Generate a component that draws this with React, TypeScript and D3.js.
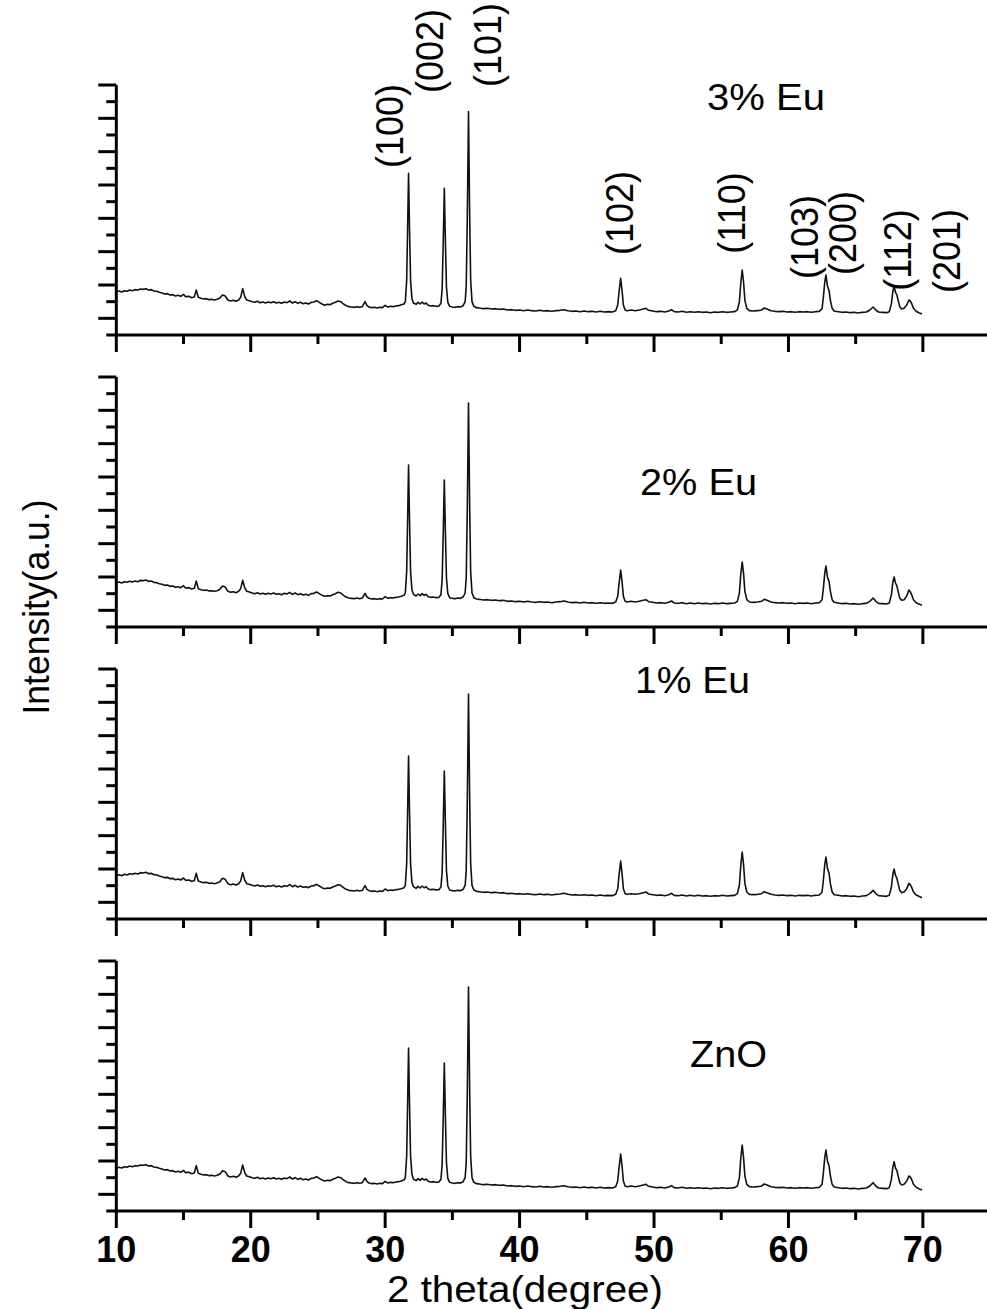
import React from "react";
import * as d3 from "d3";

// XRD patterns, [2theta (deg), intensity (counts)]
const zno: [number, number][] = [
  [10.0,256],[10.2,262],[10.4,258],[10.6,266],[10.8,262],[11.0,270],[11.2,266],[11.4,272],[11.6,270],[11.8,276],
  [12.0,274],[12.2,278],[12.4,270],[12.6,272],[12.8,264],[13.0,262],[13.2,256],[13.4,252],[13.6,246],[13.8,248],
  [14.0,240],[14.2,242],[14.4,234],[14.6,238],[14.8,232],[15.0,244],[15.15,230],[15.4,232],[15.6,224],[15.8,228],
  [15.95,272],[16.1,226],[16.3,220],[16.5,216],[16.7,218],[16.9,212],[17.1,214],[17.3,210],[17.5,214],[17.7,222],
  [17.9,242],[18.1,236],[18.3,210],[18.5,204],[18.7,208],[18.9,202],[19.1,210],[19.25,226],[19.4,276],[19.55,232],
  [19.7,210],[19.9,206],[20.1,200],[20.3,196],[20.5,202],[20.7,194],[20.9,198],[21.1,192],[21.3,198],[21.5,194],
  [21.7,200],[21.9,192],[22.1,196],[22.3,190],[22.5,198],[22.7,194],[22.9,204],[23.1,192],[23.3,200],[23.5,190],
  [23.7,196],[23.9,188],[24.1,192],[24.3,186],[24.5,196],[24.7,198],[24.9,206],[25.1,196],[25.3,186],[25.5,180],
  [25.7,184],[25.9,182],[26.1,190],[26.3,196],[26.5,204],[26.7,200],[26.9,186],[27.1,176],[27.3,170],[27.5,168],
  [27.7,166],[27.9,170],[28.1,166],[28.3,170],[28.5,198],[28.65,176],[28.8,168],[29.0,164],[29.2,166],[29.4,162],
  [29.6,166],[29.8,164],[30.0,178],[30.2,168],[30.4,172],[30.6,170],[30.8,174],[31.0,176],[31.2,180],[31.4,186],
  [31.5,200],[31.6,330],[31.67,640],[31.74,978],[31.81,650],[31.89,330],[31.99,220],[32.1,192],
  [32.3,182],[32.45,194],[32.6,184],[32.75,196],[32.9,186],[33.05,192],[33.2,178],[33.4,174],[33.6,176],[33.8,172],
  [34.0,174],[34.15,190],[34.24,280],[34.32,560],[34.4,888],[34.48,570],[34.56,290],[34.66,196],[34.8,172],
  [35.0,168],[35.2,166],[35.4,170],[35.6,168],[35.8,176],[35.95,200],
  [36.03,290],[36.11,700],[36.2,1344],[36.28,760],[36.36,330],[36.46,200],[36.6,172],[36.8,164],
  [37.0,162],[37.3,158],[37.6,160],[37.9,156],[38.2,158],[38.5,154],[38.8,156],[39.1,150],[39.4,152],[39.7,148],
  [40.0,150],[40.3,146],[40.6,150],[40.9,146],[41.2,144],[41.5,148],[41.8,144],[42.1,146],[42.4,142],[42.7,146],
  [43.0,148],[43.3,152],[43.6,146],[43.9,142],[44.2,144],[44.5,140],[44.8,144],[45.1,140],[45.4,142],[45.7,138],
  [46.0,142],[46.3,138],[46.6,140],[46.9,138],[47.15,146],
  [47.3,180],[47.4,260],[47.52,342],[47.62,270],[47.72,180],[47.85,150],
  [48.0,146],[48.3,150],[48.6,146],[48.9,150],[49.2,156],[49.4,160],[49.6,148],[49.9,144],[50.2,140],[50.5,142],
  [50.8,138],[51.1,144],[51.3,152],[51.5,140],[51.8,138],[52.1,142],[52.4,136],[52.7,140],[53.0,136],[53.3,140],
  [53.6,136],[53.9,138],[54.2,134],[54.5,138],[54.8,136],[55.1,140],[55.4,136],[55.7,138],[56.0,140],[56.2,150],
  [56.35,200],[56.46,320],[56.56,396],[56.66,320],[56.76,210],[56.9,160],[57.1,146],
  [57.4,144],[57.7,146],[58.0,150],[58.2,162],[58.4,156],[58.7,146],[59.0,142],[59.3,140],[59.6,142],[59.9,138],
  [60.2,140],[60.5,136],[60.8,140],[61.1,138],[61.4,140],[61.7,136],[62.0,140],[62.3,142],[62.5,160],
  [62.6,230],[62.7,320],[62.79,366],[62.9,300],[63.02,270],[63.12,210],[63.25,160],[63.4,144],
  [63.7,140],[64.0,136],[64.3,138],[64.6,134],[64.9,136],[65.2,132],[65.5,136],[65.8,138],[66.05,150],[66.3,170],
  [66.5,150],[66.7,138],[67.0,136],[67.3,134],[67.5,140],[67.66,190],
  [67.76,260],[67.86,296],[67.96,258],[68.06,244],[68.16,210],[68.28,170],[68.42,156],
  [68.6,160],[68.8,180],[68.96,210],[69.06,204],[69.18,186],[69.3,160],[69.5,142],[69.7,134],[69.93,126],
];

const eu1: [number, number][] = [
  [10.0,262],[10.2,266],[10.4,260],[10.6,268],[10.8,264],[11.0,272],[11.2,268],[11.4,274],[11.6,270],[11.8,278],
  [12.0,276],[12.2,280],[12.4,272],[12.6,274],[12.8,266],[13.0,264],[13.2,258],[13.4,254],[13.6,248],[13.8,250],
  [14.0,242],[14.2,244],[14.4,236],[14.6,240],[14.8,234],[15.0,246],[15.15,232],[15.4,234],[15.6,226],[15.8,230],
  [15.95,274],[16.1,228],[16.3,222],[16.5,218],[16.7,220],[16.9,214],[17.1,216],[17.3,212],[17.5,216],[17.7,224],
  [17.9,244],[18.1,238],[18.3,212],[18.5,206],[18.7,210],[18.9,204],[19.1,212],[19.25,228],[19.4,278],[19.55,234],
  [19.7,212],[19.9,208],[20.1,202],[20.3,198],[20.5,204],[20.7,196],[20.9,200],[21.1,194],[21.3,200],[21.5,196],
  [21.7,202],[21.9,194],[22.1,198],[22.3,192],[22.5,200],[22.7,196],[22.9,206],[23.1,194],[23.3,202],[23.5,192],
  [23.7,198],[23.9,190],[24.1,194],[24.3,188],[24.5,198],[24.7,200],[24.9,208],[25.1,198],[25.3,188],[25.5,182],
  [25.7,186],[25.9,184],[26.1,192],[26.3,198],[26.5,206],[26.7,202],[26.9,188],[27.1,178],[27.3,172],[27.5,170],
  [27.7,168],[27.9,172],[28.1,168],[28.3,172],[28.5,200],[28.65,178],[28.8,170],[29.0,166],[29.2,168],[29.4,164],
  [29.6,168],[29.8,166],[30.0,180],[30.2,170],[30.4,174],[30.6,172],[30.8,176],[31.0,178],[31.2,182],[31.4,188],
  [31.5,202],[31.6,332],[31.67,644],[31.74,978],[31.81,654],[31.89,332],[31.99,222],[32.1,194],
  [32.3,184],[32.45,196],[32.6,186],[32.75,198],[32.9,188],[33.05,194],[33.2,180],[33.4,176],[33.6,178],[33.8,174],
  [34.0,176],[34.15,192],[34.24,282],[34.32,564],[34.4,888],[34.48,574],[34.56,292],[34.66,198],[34.8,174],
  [35.0,170],[35.2,168],[35.4,172],[35.6,170],[35.8,178],[35.95,202],
  [36.03,292],[36.11,704],[36.2,1350],[36.28,764],[36.36,332],[36.46,202],[36.6,174],[36.8,166],
  [37.0,164],[37.3,160],[37.6,162],[37.9,158],[38.2,160],[38.5,156],[38.8,158],[39.1,152],[39.4,154],[39.7,150],
  [40.0,152],[40.3,148],[40.6,152],[40.9,148],[41.2,146],[41.5,150],[41.8,146],[42.1,148],[42.4,144],[42.7,148],
  [43.0,150],[43.3,154],[43.6,148],[43.9,144],[44.2,146],[44.5,142],[44.8,146],[45.1,142],[45.4,144],[45.7,140],
  [46.0,144],[46.3,140],[46.6,142],[46.9,140],[47.15,148],
  [47.3,182],[47.4,264],[47.52,348],[47.62,274],[47.72,182],[47.85,152],
  [48.0,148],[48.3,152],[48.6,148],[48.9,152],[49.2,158],[49.4,162],[49.6,150],[49.9,146],[50.2,142],[50.5,144],
  [50.8,140],[51.1,146],[51.3,154],[51.5,142],[51.8,140],[52.1,144],[52.4,138],[52.7,142],[53.0,138],[53.3,142],
  [53.6,138],[53.9,140],[54.2,136],[54.5,140],[54.8,138],[55.1,142],[55.4,138],[55.7,140],[56.0,142],[56.2,152],
  [56.35,204],[56.46,326],[56.56,402],[56.66,326],[56.76,212],[56.9,162],[57.1,148],
  [57.4,146],[57.7,148],[58.0,152],[58.2,164],[58.4,158],[58.7,148],[59.0,144],[59.3,142],[59.6,144],[59.9,140],
  [60.2,142],[60.5,138],[60.8,142],[61.1,140],[61.4,142],[61.7,138],[62.0,142],[62.3,144],[62.5,162],
  [62.6,234],[62.7,326],[62.79,372],[62.9,304],[63.02,274],[63.12,212],[63.25,162],[63.4,146],
  [63.7,142],[64.0,138],[64.3,140],[64.6,136],[64.9,138],[65.2,134],[65.5,138],[65.8,140],[66.05,152],[66.3,172],
  [66.5,152],[66.7,140],[67.0,138],[67.3,136],[67.5,142],[67.66,192],
  [67.76,264],[67.86,300],[67.96,262],[68.06,246],[68.16,212],[68.28,172],[68.42,158],
  [68.6,162],[68.8,182],[68.96,214],[69.06,206],[69.18,188],[69.3,162],[69.5,144],[69.7,136],[69.93,128],
];

const eu2: [number, number][] = [
  [10.0,266],[10.2,270],[10.4,264],[10.6,272],[10.8,268],[11.0,274],[11.2,270],[11.4,276],[11.6,272],[11.8,280],
  [12.0,278],[12.2,282],[12.4,274],[12.6,276],[12.8,268],[13.0,266],[13.2,260],[13.4,256],[13.6,250],[13.8,252],
  [14.0,244],[14.2,246],[14.4,238],[14.6,242],[14.8,236],[15.0,248],[15.15,234],[15.4,236],[15.6,228],[15.8,232],
  [15.95,276],[16.1,230],[16.3,224],[16.5,220],[16.7,222],[16.9,216],[17.1,218],[17.3,214],[17.5,218],[17.7,226],
  [17.9,246],[18.1,240],[18.3,214],[18.5,208],[18.7,212],[18.9,206],[19.1,214],[19.25,230],[19.4,280],[19.55,236],
  [19.7,214],[19.9,210],[20.1,204],[20.3,200],[20.5,206],[20.7,198],[20.9,202],[21.1,196],[21.3,202],[21.5,198],
  [21.7,204],[21.9,196],[22.1,200],[22.3,194],[22.5,202],[22.7,198],[22.9,208],[23.1,196],[23.3,204],[23.5,194],
  [23.7,200],[23.9,192],[24.1,196],[24.3,190],[24.5,200],[24.7,202],[24.9,210],[25.1,200],[25.3,190],[25.5,184],
  [25.7,188],[25.9,186],[26.1,194],[26.3,200],[26.5,208],[26.7,204],[26.9,190],[27.1,180],[27.3,174],[27.5,172],
  [27.7,170],[27.9,174],[28.1,170],[28.3,174],[28.5,202],[28.65,180],[28.8,172],[29.0,168],[29.2,170],[29.4,166],
  [29.6,170],[29.8,168],[30.0,182],[30.2,172],[30.4,176],[30.6,174],[30.8,178],[31.0,180],[31.2,184],[31.4,190],
  [31.5,204],[31.6,332],[31.67,640],[31.74,972],[31.81,650],[31.89,332],[31.99,224],[32.1,196],
  [32.3,186],[32.45,198],[32.6,188],[32.75,200],[32.9,190],[33.05,196],[33.2,182],[33.4,178],[33.6,180],[33.8,176],
  [34.0,178],[34.15,194],[34.24,284],[34.32,560],[34.4,882],[34.48,570],[34.56,294],[34.66,200],[34.8,176],
  [35.0,172],[35.2,170],[35.4,174],[35.6,172],[35.8,180],[35.95,204],
  [36.03,294],[36.11,702],[36.2,1344],[36.28,762],[36.36,334],[36.46,204],[36.6,176],[36.8,168],
  [37.0,166],[37.3,162],[37.6,164],[37.9,160],[38.2,162],[38.5,158],[38.8,160],[39.1,154],[39.4,156],[39.7,152],
  [40.0,154],[40.3,150],[40.6,154],[40.9,150],[41.2,148],[41.5,152],[41.8,148],[42.1,150],[42.4,146],[42.7,150],
  [43.0,152],[43.3,156],[43.6,150],[43.9,146],[44.2,148],[44.5,144],[44.8,148],[45.1,144],[45.4,146],[45.7,142],
  [46.0,146],[46.3,142],[46.6,144],[46.9,142],[47.15,150],
  [47.3,184],[47.4,262],[47.52,342],[47.62,272],[47.72,184],[47.85,154],
  [48.0,150],[48.3,154],[48.6,150],[48.9,154],[49.2,160],[49.4,164],[49.6,152],[49.9,148],[50.2,144],[50.5,146],
  [50.8,142],[51.1,148],[51.3,156],[51.5,144],[51.8,142],[52.1,146],[52.4,140],[52.7,144],[53.0,140],[53.3,144],
  [53.6,140],[53.9,142],[54.2,138],[54.5,142],[54.8,140],[55.1,144],[55.4,140],[55.7,142],[56.0,144],[56.2,154],
  [56.35,204],[56.46,322],[56.56,390],[56.66,322],[56.76,214],[56.9,164],[57.1,150],
  [57.4,148],[57.7,150],[58.0,154],[58.2,166],[58.4,160],[58.7,150],[59.0,146],[59.3,144],[59.6,146],[59.9,142],
  [60.2,144],[60.5,140],[60.8,144],[61.1,142],[61.4,144],[61.7,140],[62.0,144],[62.3,146],[62.5,164],
  [62.6,234],[62.7,322],[62.79,366],[62.9,302],[63.02,272],[63.12,214],[63.25,164],[63.4,148],
  [63.7,144],[64.0,140],[64.3,142],[64.6,138],[64.9,140],[65.2,136],[65.5,140],[65.8,142],[66.05,154],[66.3,174],
  [66.5,154],[66.7,142],[67.0,140],[67.3,138],[67.5,144],[67.66,194],
  [67.76,266],[67.86,300],[67.96,264],[68.06,248],[68.16,214],[68.28,174],[68.42,160],
  [68.6,164],[68.8,186],[68.96,222],[69.06,212],[69.18,190],[69.3,164],[69.5,146],[69.7,138],[69.93,130],
];

const eu3: [number, number][] = [
  [10.0,260],[10.2,264],[10.4,258],[10.6,266],[10.8,262],[11.0,270],[11.2,266],[11.4,272],[11.6,270],[11.8,276],
  [12.0,274],[12.2,278],[12.4,270],[12.6,272],[12.8,264],[13.0,262],[13.2,256],[13.4,252],[13.6,246],[13.8,248],
  [14.0,240],[14.2,242],[14.4,234],[14.6,238],[14.8,232],[15.0,244],[15.15,230],[15.4,232],[15.6,224],[15.8,228],
  [15.95,270],[16.1,226],[16.3,220],[16.5,216],[16.7,218],[16.9,212],[17.1,214],[17.3,210],[17.5,214],[17.7,222],
  [17.9,240],[18.1,234],[18.3,210],[18.5,204],[18.7,208],[18.9,202],[19.1,210],[19.25,226],[19.4,278],[19.55,232],
  [19.7,210],[19.9,206],[20.1,200],[20.3,196],[20.5,202],[20.7,194],[20.9,198],[21.1,192],[21.3,198],[21.5,194],
  [21.7,200],[21.9,192],[22.1,196],[22.3,190],[22.5,198],[22.7,194],[22.9,204],[23.1,192],[23.3,200],[23.5,190],
  [23.7,196],[23.9,188],[24.1,192],[24.3,186],[24.5,196],[24.7,198],[24.9,206],[25.1,196],[25.3,186],[25.5,178],
  [25.7,184],[25.9,182],[26.1,190],[26.3,196],[26.5,204],[26.7,200],[26.9,186],[27.1,176],[27.3,170],[27.5,168],
  [27.7,166],[27.9,170],[28.1,166],[28.3,170],[28.5,200],[28.65,176],[28.8,168],[29.0,164],[29.2,166],[29.4,162],
  [29.6,166],[29.8,164],[30.0,178],[30.2,168],[30.4,172],[30.6,170],[30.8,174],[31.0,176],[31.2,182],[31.4,186],
  [31.5,200],[31.6,328],[31.67,636],[31.74,970],[31.81,646],[31.89,328],[31.99,220],[32.1,192],
  [32.3,184],[32.45,196],[32.6,186],[32.75,198],[32.9,186],[33.05,192],[33.2,178],[33.4,174],[33.6,176],[33.8,172],
  [34.0,174],[34.15,190],[34.24,278],[34.32,556],[34.4,880],[34.48,566],[34.56,288],[34.66,196],[34.8,172],
  [35.0,168],[35.2,166],[35.4,170],[35.6,168],[35.8,176],[35.95,200],
  [36.03,290],[36.11,698],[36.2,1340],[36.28,756],[36.36,328],[36.46,200],[36.6,172],[36.8,164],
  [37.0,162],[37.3,158],[37.6,160],[37.9,156],[38.2,158],[38.5,154],[38.8,156],[39.1,150],[39.4,152],[39.7,148],
  [40.0,150],[40.3,146],[40.6,150],[40.9,146],[41.2,144],[41.5,148],[41.8,144],[42.1,146],[42.4,142],[42.7,146],
  [43.0,148],[43.3,152],[43.6,146],[43.9,142],[44.2,144],[44.5,140],[44.8,144],[45.1,140],[45.4,142],[45.7,138],
  [46.0,142],[46.3,138],[46.6,140],[46.9,138],[47.15,146],
  [47.3,180],[47.4,260],[47.52,340],[47.62,268],[47.72,180],[47.85,150],
  [48.0,146],[48.3,150],[48.6,146],[48.9,150],[49.2,156],[49.4,160],[49.6,148],[49.9,144],[50.2,140],[50.5,142],
  [50.8,138],[51.1,144],[51.3,152],[51.5,140],[51.8,138],[52.1,142],[52.4,136],[52.7,140],[53.0,136],[53.3,140],
  [53.6,136],[53.9,138],[54.2,134],[54.5,138],[54.8,136],[55.1,140],[55.4,136],[55.7,138],[56.0,140],[56.2,150],
  [56.35,200],[56.46,318],[56.56,390],[56.66,318],[56.76,208],[56.9,160],[57.1,146],
  [57.4,144],[57.7,146],[58.0,150],[58.2,162],[58.4,156],[58.7,146],[59.0,142],[59.3,140],[59.6,142],[59.9,138],
  [60.2,140],[60.5,136],[60.8,140],[61.1,138],[61.4,140],[61.7,136],[62.0,140],[62.3,142],[62.5,158],
  [62.6,228],[62.7,316],[62.79,360],[62.9,296],[63.02,266],[63.12,208],[63.25,160],[63.4,144],
  [63.7,140],[64.0,136],[64.3,138],[64.6,134],[64.9,136],[65.2,132],[65.5,136],[65.8,138],[66.05,150],[66.3,168],
  [66.5,150],[66.7,138],[67.0,136],[67.3,134],[67.5,140],[67.66,188],
  [67.76,258],[67.86,294],[67.96,256],[68.06,242],[68.16,208],[68.28,170],[68.42,156],
  [68.6,160],[68.8,180],[68.96,210],[69.06,204],[69.18,186],[69.3,160],[69.5,142],[69.7,134],[69.93,126],
];

const sampleNames = ["3% Eu", "2% Eu", "1% Eu", "ZnO"];
const samplePatterns = [eu3, eu2, eu1, zno];

const hklLabels = ["(100)", "(002)", "(101)", "(102)", "(110)", "(103)", "(200)", "(112)", "(201)"];

const xTickValues = [10, 15, 20, 25, 30, 35, 40, 45, 50, 55, 60, 65, 70, 75];
const xTickLabels = ["10", "20", "30", "40", "50", "60", "70"];
const yTickValues = [0, 100, 200, 300, 400, 500, 600, 700, 800, 900, 1000, 1100, 1200, 1300, 1400, 1500];

// layout
const W = 987;
const H = 1309;
const panelTop0 = 85;
const panelStep = 292;
const panelHeight = 250;
const font = "'Liberation Sans', Arial, sans-serif";

// where each name sits: [x, baseline, width]
const nameLayout = [
  [707, 110, 118],
  [640, 495, 117],
  [635, 693, 115],
  [690, 1067, 77],
];
// centre of each rotated hkl label
const hklLayout = [
  [389, 126], [429, 51], [487, 45], [619, 213], [731, 213],
  [804, 237], [842, 233], [897, 250], [946, 251],
];

function Panel({ data, top, showLabels, x }: any) {
  const bottom = top + panelHeight;
  const y = d3.scaleLinear().domain([0, 1500]).range([bottom, top]);
  const line = d3
    .line<[number, number]>()
    .x((d) => x(d[0]))
    .y((d) => y(d[1]));
  const left = x(10);

  return (
    <g>
      <path d={line(data) || ""} fill="none" stroke="#111" strokeWidth={1.6} strokeLinejoin="round" />

      {/* y axis */}
      <line x1={left} y1={top} x2={left} y2={bottom} stroke="#000" strokeWidth={3} />
      {yTickValues.map((v) => {
        const major = (v / 100) % 2 === 1;
        return (
          <line key={v} x1={left - (major ? 18 : 10)} x2={left} y1={y(v)} y2={y(v)} stroke="#000" strokeWidth={3} />
        );
      })}

      {/* x axis */}
      <line x1={left} y1={bottom} x2={W + 5} y2={bottom} stroke="#000" strokeWidth={3} />
      {xTickValues.map((v) => {
        const major = v % 10 === 0;
        return (
          <line key={v} x1={x(v)} x2={x(v)} y1={bottom} y2={bottom + (major ? 17 : 9)} stroke="#000" strokeWidth={3} />
        );
      })}

      {showLabels &&
        xTickLabels.map((t) => (
          <text key={t} x={x(+t)} y={bottom + 51} textAnchor="middle" fontSize={36} fontWeight="bold" fontFamily={font}>
            {t}
          </text>
        ))}
    </g>
  );
}

export default function App() {
  const x = d3.scaleLinear().domain([10, 75]).range([116.3, 116.3 + 65 * 13.443]);

  return (
    <svg width={W} height={H} style={{ position: "absolute", left: 0, top: 0, background: "#fff" }}>
      <rect width={W} height={H} fill="#fff" />
      {samplePatterns.map((d, i) => (
        <Panel key={i} data={d} top={panelTop0 + i * panelStep} showLabels={i === 3} x={x} />
      ))}

      {sampleNames.map((s, i) => (
        <text
          key={s}
          x={nameLayout[i][0]}
          y={nameLayout[i][1]}
          fontSize={36}
          fontFamily={font}
          textLength={nameLayout[i][2]}
          lengthAdjust="spacingAndGlyphs"
        >
          {s}
        </text>
      ))}

      {hklLabels.map((h, i) => (
        <text
          key={h}
          transform={`translate(${hklLayout[i][0]},${hklLayout[i][1]}) scale(1.1,1) rotate(-90)`}
          textAnchor="middle"
          dominantBaseline="central"
          fontSize={36}
          fontFamily={font}
        >
          {h}
        </text>
      ))}

      <text
        x={387}
        y={1302}
        fontSize={37}
        fontFamily={font}
        textLength={276}
        lengthAdjust="spacingAndGlyphs"
      >
        2 theta(degree)
      </text>

      <text
        transform="translate(49,607) rotate(-90)"
        textAnchor="middle"
        fontSize={36}
        fontFamily={font}
        textLength={215}
        lengthAdjust="spacingAndGlyphs"
      >
        Intensity(a.u.)
      </text>
    </svg>
  );
}
